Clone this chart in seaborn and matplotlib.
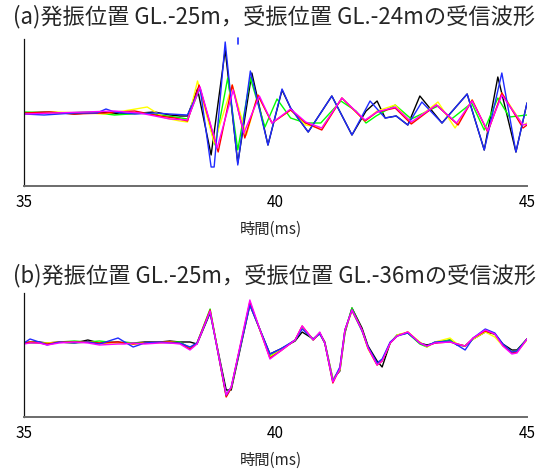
import matplotlib

matplotlib.use("Agg")
import matplotlib.pyplot as plt
import numpy as np
import pandas as pd
import seaborn as sns

# ---- data (time in ms, amplitude in arbitrary units) ----
TRACES = ["black", "green", "yellow", "red", "blue", "magenta"]
TRACE_COLORS = {
    "black": "#000000",
    "green": "#00ff00",
    "yellow": "#ffff00",
    "red": "#ff0000",
    "blue": "#1f2bff",
    "magenta": "#ff00ff",
}

# panel (a): source GL.-25m, receiver GL.-24m
A_T_BLACK = [35.0, 35.5, 36.0, 36.5, 36.9, 37.3, 37.6, 37.9, 38.1, 38.25,
             38.45, 38.72, 39.0, 39.25, 39.53, 39.85, 40.13, 40.3, 40.65, 41.12,
             41.52, 41.8, 42.02, 42.18, 42.4, 42.63, 42.87, 43.31, 43.81, 44.15,
             44.42, 44.78, 45.0]
A_V_BLACK = [0, 1, -1, 1, -1, 0, 1, -2, -3, -3,
             24, -42, 63, -50, 40, -32, 23, 5, -19, 17,
             -22, 2, 12, -5, -3, -12, 17, -10, 19, -37,
             36, -39, 10]
A_T_BLUE = [35.0, 35.4, 36.0, 36.45, 36.63, 36.8, 37.2, 37.6, 37.9, 38.25,
            38.5, 38.72, 38.78, 39.0, 39.25, 39.5, 39.85, 40.13, 40.3, 40.65, 41.12,
            41.52, 41.88, 42.18, 42.4, 42.63, 42.91, 43.31, 43.81, 44.15, 44.5,
            44.78, 45.0]
A_V_BLUE = [-1, -2, 0, 0, 4, 1, -1, 0, -1, -2,
            25, -54, -54, 71, -52, 42, -32, 24, 5, -19, 17,
            -22, 12, -5, -3, -12, 11, -10, 19, -37, 40,
            -39, 10]
A_T_GREEN = [35.0, 35.8, 36.3, 36.8, 37.4, 38.0, 38.25, 38.5, 38.8, 39.05,
             39.25, 39.5, 39.79, 40.03, 40.3, 40.6, 40.9, 41.3, 41.6, 41.8,
             42.0, 42.38, 42.7, 43.23, 43.5, 43.9, 44.15, 44.42, 44.65, 45.0]
A_V_GREEN = [1, 0, 1, -2, 0, -4, -6, 25, -32, 35,
             -37, 35, -14, 14, -5, -10, -10, 12, 2, -10,
             -3, 8, -6, 7, -6, 10, -17, 15, -4, -2]
A_T_YELLOW = [35.0, 35.6, 36.2, 36.6, 37.1, 37.45, 37.8, 38.1, 38.25, 38.45,
              38.78, 39.14, 39.42, 39.65, 39.93, 40.3, 40.6, 40.92, 41.32, 41.78,
              42.02, 42.38, 42.7, 43.23, 43.57, 43.91, 44.22, 44.5, 44.92, 45.0]
A_V_YELLOW = [-1, 1, 0, -1, 3, 6, -5, -8, -9, 32,
              -30, 28, -22, 18, -10, 3, -12, -15, 15, -8,
              2, 8, -10, 11, -15, 13, -19, 20, -12, -10]
A_T_RED = [35.0, 35.5, 36.0, 36.6, 37.2, 37.7, 38.0, 38.25, 38.48, 38.86,
           39.14, 39.39, 39.65, 39.93, 40.3, 40.6, 40.92, 41.32, 41.78, 42.02,
           42.38, 42.7, 43.2, 43.63, 43.91, 44.22, 44.5, 44.92, 45.0]
A_V_RED = [0, 1, -1, 0, 2, -3, -5, -8, 28, -39,
           28, -25, 18, -10, 3, -10, -17, 15, -8, 1,
           5, -11, 8, -12, 13, -19, 20, -15, -12]
A_T_MAGENTA = [35.0, 35.6, 36.2, 36.8, 37.3, 37.9, 38.25, 38.5, 38.84, 39.16,
               39.37, 39.68, 39.93, 40.3, 40.6, 40.92, 41.32, 41.78, 42.02, 42.38,
               42.7, 43.2, 43.6, 43.91, 44.22, 44.5, 44.92, 45.0]
A_V_MAGENTA = [-1, 0, 1, 2, 0, -6, -7, 26, -35, 23,
               -20, 17, -10, 4, -9, -15, 15, -7, 1, 6,
               -9, 8, -10, 12, -18, 18, -12, -11]
# stray blue mark above the big peak
A_T_MARK = [39.25, 39.25]
A_V_MARK = [69, 75]

# panel (b): source GL.-25m, receiver GL.-36m (all traces share sample times)
B_T = [35.0, 35.12, 35.3, 35.46, 35.7, 36.0, 36.27, 36.5, 36.87, 37.0,
       37.17, 37.4, 37.7, 37.9, 38.1, 38.3, 38.44, 38.7, 39.02, 39.12,
       39.49, 39.89, 40.1, 40.39, 40.53, 40.75, 40.88, 40.98, 41.14, 41.28,
       41.38, 41.52, 41.72, 41.84, 42.02, 42.12, 42.28, 42.42, 42.63, 42.87,
       43.01, 43.17, 43.47, 43.61, 43.77, 43.93, 44.17, 44.36, 44.52, 44.70,
       44.80, 45.0]
B_V_BLACK = [0, 1, 1, 0, 1, 0, 3, 0, 1, 0,
             0, 1, 1, 2, 1, 1, -1, 30, -47, -47,
             38, -11, -6, 2, 11, 4, 10, 1, -36, -28,
             10, 35, 15, -3, -18, -24, 0, 8, 10, 0,
             -2, 0, 3, -2, -3, 4, 11, 9, -1, -7,
             -7, 4]
B_V_BLUE = [0, 4, 1, -2, 1, 0, 1, -1, 5, 1,
            -4, 0, 1, 0, 0, -4, 0, 31, -52, -44,
            38, -11, -6, 3, 14, 4, 9, 0, -38, -24,
            13, 33, 12, -4, -20, -16, 1, 7, 10, 0,
            -3, 1, 2, -2, -7, 5, 14, 10, -1, -9,
            -8, 4]
B_V_GREEN = [1, 0, 0, -1, 1, 2, 1, 2, 0, 1,
             0, 0, 1, 1, 1, -5, 0, 34, -53, -45,
             40, -13, -7, 3, 15, 3, 10, 0, -38, -26,
             12, 35, 13, -5, -21, -18, 0, 8, 10, -1,
             -4, 1, 3, -1, -3, 4, 12, 9, -2, -9,
             -8, 4]
B_V_YELLOW = [0, 1, 0, 0, 1, 0, 1, 0, 0, 0,
              -1, 0, 0, 1, 0, -6, 0, 32, -53, -44,
              40, -14, -7, 3, 16, 4, 9, 0, -36, -27,
              12, 32, 12, -6, -22, -18, 0, 8, 11, 1,
              -4, 1, 5, -1, -3, 4, 11, 6, -3, -9,
              -9, 3]
B_V_RED = [0, 1, 0, -1, 1, 1, 1, 0, 1, 0,
           -1, 0, 1, 1, 0, -6, 0, 33, -54, -45,
           41, -15, -8, 3, 17, 3, 10, 0, -40, -25,
           13, 33, 13, -5, -22, -18, 0, 7, 11, 0,
           -3, 0, 1, -1, -3, 5, 12, 9, -2, -10,
           -9, 4]
B_V_MAGENTA = [-1, 0, 0, -2, 0, 1, 0, -2, -1, -1,
               0, -1, 0, 0, -1, -7, -1, 32, -52, -44,
               43, -16, -8, 3, 17, 3, 11, 0, -39, -26,
               13, 33, 13, -5, -22, -18, 0, 7, 11, 0,
               -3, 0, 1, -1, -3, 5, 13, 9, -3, -11,
               -10, 4]

TITLE_A = "(a)発振位置 GL.-25m，受振位置 GL.-24mの受信波形"
TITLE_B = "(b)発振位置 GL.-25m，受振位置 GL.-36mの受信波形"
X_LABEL = "時間(ms)"
X_TICKS = [35, 40, 45]


def long_frame(series: dict[str, tuple[list[float], list[float]]]) -> pd.DataFrame:
    parts = []
    for name, (t, v) in series.items():
        parts.append(pd.DataFrame({"t": t, "v": v, "trace": name}))
    return pd.concat(parts, ignore_index=True)


def style_axis(ax, ylim, ytick=None):
    ax.set_xlim(35, 45)
    ax.set_ylim(*ylim)
    for side in ("top", "right"):
        ax.spines[side].set_visible(False)
    ax.spines["bottom"].set_color("#6b6b6b")
    ax.spines["bottom"].set_linewidth(1.4)
    ax.spines["left"].set_color("#111111")
    ax.spines["left"].set_linewidth(0.9)
    ax.set_xticks(X_TICKS)
    ax.set_xticks(np.arange(35, 45.01, 0.5), minor=True)
    ax.tick_params(axis="x", which="both", direction="in", length=4.5, width=0.9,
                   color="#555555", labelsize=11, pad=6, labelcolor="black")
    if ytick is None:
        ax.set_yticks([])
    else:
        ax.set_yticks([ytick])
        ax.set_yticklabels([""])
        ax.tick_params(axis="y", direction="in", length=4, width=0.8, color="#111111")
    ax.set_xlabel("")
    ax.set_ylabel("")


sns.set_style("white")
plt.rcParams["font.family"] = ["Noto Sans CJK JP", "DejaVu Sans"]

fig = plt.figure(figsize=(5.47, 4.72), dpi=100)
ax_a = fig.add_axes([24 / 547, 1 - 186 / 472, 503 / 547, 147 / 472])
ax_b = fig.add_axes([24 / 547, 1 - 417 / 472, 503 / 547, 124 / 472])

df_a = long_frame({
    "black": (A_T_BLACK, A_V_BLACK),
    "green": (A_T_GREEN, A_V_GREEN),
    "yellow": (A_T_YELLOW, A_V_YELLOW),
    "red": (A_T_RED, A_V_RED),
    "blue": (A_T_BLUE, A_V_BLUE),
    "magenta": (A_T_MAGENTA, A_V_MAGENTA),
})
df_b = long_frame({
    "black": (B_T, B_V_BLACK),
    "green": (B_T, B_V_GREEN),
    "yellow": (B_T, B_V_YELLOW),
    "red": (B_T, B_V_RED),
    "blue": (B_T, B_V_BLUE),
    "magenta": (B_T, B_V_MAGENTA),
})

for ax, df in ((ax_a, df_a), (ax_b, df_b)):
    sns.lineplot(data=df, x="t", y="v", hue="trace", hue_order=TRACES,
                 palette=TRACE_COLORS, sort=False, estimator=None,
                 legend=False, linewidth=1.0, ax=ax)

sns.lineplot(x=A_T_MARK, y=A_V_MARK, color=TRACE_COLORS["blue"], linewidth=1.2,
             sort=False, estimator=None, ax=ax_a).lines[-1].set_clip_on(False)

style_axis(ax_a, (-73, 74), ytick=66)
style_axis(ax_b, (-74, 50))

fig.text(13 / 547, 1 - 17 / 472, TITLE_A, fontsize=16, ha="left", va="center")
fig.text(13 / 547, 1 - 276 / 472, TITLE_B, fontsize=16, ha="left", va="center")
fig.text(271 / 547, 1 - 229 / 472, X_LABEL, fontsize=11, ha="center", va="center")
fig.text(271 / 547, 1 - 460 / 472, X_LABEL, fontsize=11, ha="center", va="center")

fig.savefig("out.png", dpi=100)
plt.close(fig)
